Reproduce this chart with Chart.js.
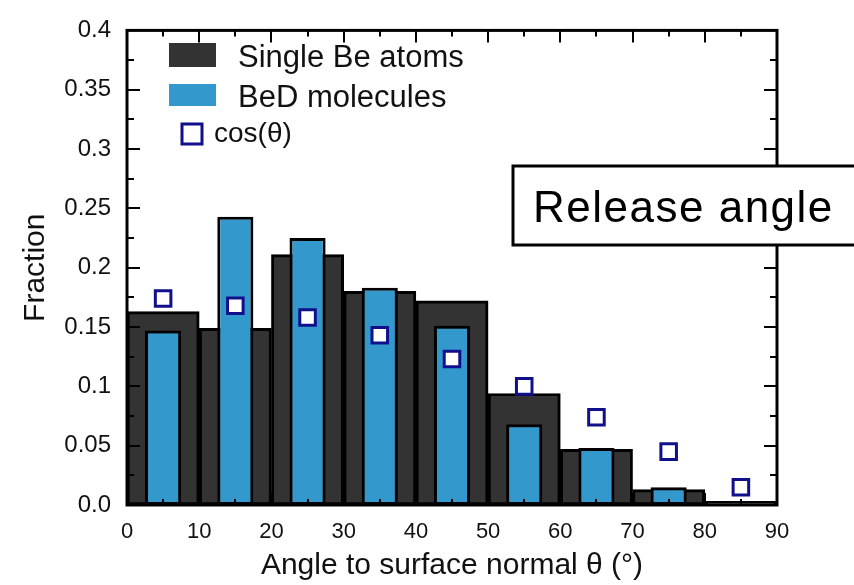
<!DOCTYPE html>
<html>
<head>
<meta charset="utf-8">
<script src="https://cdn.jsdelivr.net/npm/chart.js@4.4.1/dist/chart.umd.min.js"></script>
<style>
  html, body { margin: 0; padding: 0; background: #fff; }
  #wrap { width: 854px; height: 585px; }
</style>
</head>
<body>
<div id="wrap"><canvas id="chart" width="854" height="585"></canvas></div>
<script>
// Data
const binCenters = [5, 15, 25, 35, 45, 55, 65, 75, 85];
const singleBe = [0.163, 0.149, 0.211, 0.180, 0.172, 0.094, 0.047, 0.013, 0.003];
const beD = [0.147, 0.243, 0.225, 0.183, 0.151, 0.068, 0.048, 0.015, 0];
const cosTheta = [0.174, 0.168, 0.158, 0.143, 0.123, 0.100, 0.074, 0.045, 0.015];
const xTickLabels = [0, 10, 20, 30, 40, 50, 60, 70, 80, 90];
const yTickLabels = ['0.0', '0.05', '0.1', '0.15', '0.2', '0.25', '0.3', '0.35', '0.4'];

const FONT = "'Liberation Sans', Arial, Helvetica, sans-serif";
const DARK = '#333333';
const BLUE = '#3399cc';
const NAVY = '#10108c';

const toPoints = vals => vals.map((v, i) => ({ x: binCenters[i], y: v }));

// Frame, inward ticks, legend and the "Release angle" box
const decorations = {
  id: 'decorations',
  afterDraw(chart) {
    const ctx = chart.ctx;
    const { left, right, top, bottom } = chart.chartArea;
    const xs = chart.scales.x;
    const ys = chart.scales.y;

    ctx.save();
    ctx.strokeStyle = '#000';
    ctx.lineWidth = 2;
    // x ticks every 5 degrees, top and bottom
    for (let d = 5; d < 90; d += 5) {
      const px = Math.round(xs.getPixelForValue(d));
      const len = d % 10 === 0 ? 12 : 6;
      ctx.beginPath();
      ctx.moveTo(px, bottom); ctx.lineTo(px, bottom - len);
      ctx.moveTo(px, top); ctx.lineTo(px, top + len);
      ctx.stroke();
    }
    // y ticks every 0.025, left and right
    for (let k = 1; k < 16; k++) {
      const py = Math.round(ys.getPixelForValue(k * 0.025));
      const len = k % 2 === 0 ? 13 : 7;
      ctx.beginPath();
      ctx.moveTo(left, py); ctx.lineTo(left + len, py);
      ctx.moveTo(right, py); ctx.lineTo(right - len, py);
      ctx.stroke();
    }
    // frame
    ctx.lineWidth = 3;
    ctx.strokeRect(left, top, right - left, bottom - top);

    // legend
    ctx.fillStyle = DARK;
    ctx.fillRect(169, 43, 47, 24);
    ctx.fillStyle = BLUE;
    ctx.fillRect(169, 84, 47, 22);
    ctx.strokeStyle = NAVY;
    ctx.lineWidth = 3;
    ctx.strokeRect(182, 124, 20, 20);
    ctx.fillStyle = '#111';
    ctx.font = '31px ' + FONT;
    ctx.textBaseline = 'alphabetic';
    ctx.textAlign = 'left';
    ctx.fillText('Single Be atoms', 238, 67);
    ctx.fillText('BeD molecules', 238, 107);
    ctx.font = '28px ' + FONT;
    ctx.fillText('cos(θ)', 214, 142);

    // "Release angle" box
    ctx.fillStyle = '#fff';
    ctx.fillRect(513, 166, 345, 79);
    ctx.strokeStyle = '#000';
    ctx.lineWidth = 3;
    ctx.strokeRect(513, 166, 345, 79);
    ctx.fillStyle = '#000';
    ctx.font = '44px ' + FONT;
    ctx.letterSpacing = '1.5px';
    ctx.fillText('Release angle', 533, 222);
    ctx.restore();
  }
};

new Chart(document.getElementById('chart'), {
  type: 'bar',
  data: {
    datasets: [
      {
        type: 'scatter',
        label: 'cos(θ)',
        data: toPoints(cosTheta),
        pointStyle: 'rect',
        pointRadius: 11,
        borderWidth: 3,
        borderColor: NAVY,
        backgroundColor: '#fff',
        order: 0
      },
      {
        label: 'BeD molecules',
        data: toPoints(beD),
        backgroundColor: BLUE,
        borderColor: '#000',
        borderWidth: 3,
        borderSkipped: false,
        barPercentage: 0.5,
        categoryPercentage: 1,
        grouped: false,
        order: 1
      },
      {
        label: 'Single Be atoms',
        data: toPoints(singleBe),
        backgroundColor: DARK,
        borderColor: '#000',
        borderWidth: 3,
        borderSkipped: false,
        barPercentage: 1,
        categoryPercentage: 1,
        grouped: false,
        order: 2
      }
    ]
  },
  options: {
    responsive: false,
    animation: false,
    layout: { padding: { left: 0, right: 77, top: 18, bottom: 0 } },
    plugins: {
      legend: { display: false },
      tooltip: { enabled: false }
    },
    scales: {
      x: {
        type: 'linear',
        min: 0,
        max: 90,
        offset: false,
        grid: { display: false, drawTicks: false },
        border: { display: false },
        afterBuildTicks: scale => { scale.ticks = xTickLabels.map(v => ({ value: v })); },
        afterFit: scale => { scale.height = 80; },
        ticks: {
          color: '#111',
          padding: 14,
          font: { family: FONT, size: 22 },
          callback: v => String(v)
        },
        title: {
          display: true,
          text: 'Angle to surface normal θ (°)',
          color: '#111',
          font: { family: FONT, size: 30 },
          padding: { top: 0, bottom: 1 }
        }
      },
      y: {
        min: 0,
        max: 0.4,
        grid: { display: false, drawTicks: false },
        border: { display: false },
        afterBuildTicks: scale => { scale.ticks = yTickLabels.map((t, i) => ({ value: i * 0.05 })); },
        afterFit: scale => { scale.width = 127; },
        ticks: {
          color: '#111',
          padding: 16,
          font: { family: FONT, size: 24 },
          callback: (v, i) => yTickLabels[i]
        },
        title: {
          display: true,
          text: 'Fraction',
          color: '#111',
          font: { family: FONT, size: 30 },
          padding: { top: 18, bottom: 0 }
        }
      }
    }
  },
  plugins: [decorations]
});
</script>
</body>
</html>
